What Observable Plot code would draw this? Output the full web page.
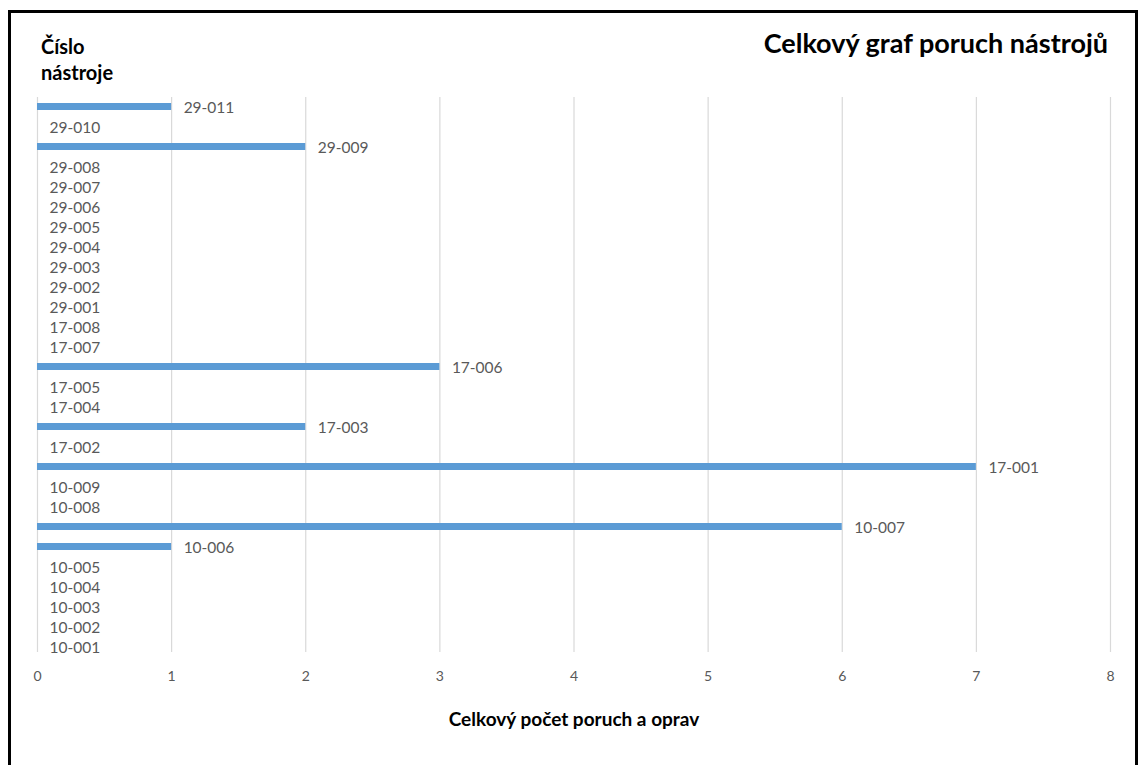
<!DOCTYPE html>
<html>
<head>
<meta charset="utf-8">
<script src="https://cdn.jsdelivr.net/npm/d3@7"></script>
<script src="https://cdn.jsdelivr.net/npm/@observablehq/plot@0.6"></script>
<style>
  html, body { margin: 0; padding: 0; background: #fff; }
  #page { position: relative; width: 1140px; height: 765px; overflow: hidden; font-family: Lato, "Open Sans", sans-serif; }
  #frame { position: absolute; left: 8px; top: 10px; width: 1130px; height: 800px; border: 3px solid #000; box-sizing: border-box; pointer-events: none; }
  #header { position: relative; height: 90px; }
  #ytitle { position: absolute; left: 41px; top: 33px; font-weight: bold; font-size: 20px; line-height: 26px; color: #000; }
  #title { position: absolute; right: 32px; top: 26px; font-weight: bold; font-size: 27px; color: #000; white-space: nowrap; }
  #chart svg { display: block; }
</style>
</head>
<body>
<div id="page">
  <div id="header">
    <div id="ytitle">Číslo<br>nástroje</div>
    <div id="title">Celkový graf poruch nástrojů</div>
  </div>
  <div id="chart"></div>
  <div id="frame"></div>
</div>
<script>
const tools = [
  "29-011","29-010","29-009","29-008","29-007","29-006","29-005","29-004","29-003","29-002","29-001",
  "17-008","17-007","17-006","17-005","17-004","17-003","17-002","17-001",
  "10-009","10-008","10-007","10-006","10-005","10-004","10-003","10-002","10-001"
];
const failures = [
  1,0,2,0,0,0,0,0,0,0,0,
  0,0,3,0,0,2,0,7,
  0,0,6,1,0,0,0,0,0
];
const xTicks = [0,1,2,3,4,5,6,7,8];
const xLabel = "Celkový počet poruch a oprav";

const data = tools.map((t, i) => ({tool: t, value: failures[i]}));

const chart = Plot.plot({
  width: 1140,
  height: 675,
  marginTop: 8,
  marginBottom: 110,
  marginLeft: 37,
  marginRight: 30,
  style: {fontFamily: "Lato, 'Open Sans', sans-serif", color: "#595959", background: "#fff"},
  x: {domain: [0, 8], ticks: xTicks, label: null},
  y: {domain: tools, padding: 0, axis: null},
  marks: [
    Plot.gridX(xTicks, {stroke: "#d9d9d9", strokeOpacity: 1, strokeWidth: 1.2, insetTop: -1, insetBottom: 3}),
    Plot.ruleY(data.filter(d => d.value > 0), {y: "tool", x1: 0, x2: "value", stroke: "#5b9bd5", strokeWidth: 7, dy: -1}),
    Plot.text(data, {y: "tool", x: "value", text: "tool", dx: 12, dy: 1, textAnchor: "start", fontSize: 15.5, fill: "#595959"}),
    Plot.axisX(xTicks, {tickSize: 0, tickPadding: 16, fontSize: 14, fill: "#595959", label: null, tickFormat: "d"}),
    Plot.text([xLabel], {frameAnchor: "bottom", dy: 70, text: d => d, fontSize: 19, fontWeight: "bold", fill: "#000"})
  ]
});
document.getElementById("chart").appendChild(chart);
</script>
</body>
</html>
